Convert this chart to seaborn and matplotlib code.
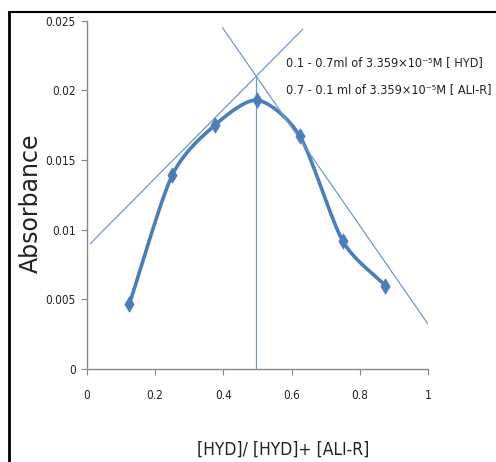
import numpy as np
import pandas as pd
import matplotlib
matplotlib.use("Agg")
import matplotlib.pyplot as plt
from matplotlib.lines import Line2D
import seaborn as sns

# data
mole_fraction = [0.125, 0.25, 0.375, 0.5, 0.625, 0.75, 0.875]
absorbance = [0.0047, 0.0139, 0.0175, 0.0193, 0.0167, 0.0092, 0.0060]

# tangent lines (start/end points)
tan1_x = [0.01, 0.633]
tan1_y = [0.0090, 0.0244]
tan2_x = [0.398, 1.032]
tan2_y = [0.0245, 0.0021]
vert_x = [0.495, 0.495]
vert_y = [0.0, 0.0210]

note_lines = ["0.1 - 0.7ml of 3.359×10⁻⁵M [ HYD]",
              "0.7 - 0.1 ml of 3.359×10⁻⁵M [ ALI-R]"]

BLUE = "#4A7EBB"
LIGHT = "#6C9BD2"


def smooth(x, y, n=30, k=0.8):
    # Catmull-Rom style spline through the points, like Excel's smoothed line
    x = np.asarray(x, float)
    y = np.asarray(y, float)
    px = np.concatenate([[2 * x[0] - x[1]], x, [2 * x[-1] - x[-2]]])
    py = np.concatenate([[2 * y[0] - y[1]], y, [2 * y[-1] - y[-2]]])
    xs, ys = [], []
    t = np.linspace(0, 1, n)
    h00 = 2 * t ** 3 - 3 * t ** 2 + 1
    h10 = t ** 3 - 2 * t ** 2 + t
    h01 = -2 * t ** 3 + 3 * t ** 2
    h11 = t ** 3 - t ** 2
    for i in range(1, len(px) - 2):
        for p, out in ((px, xs), (py, ys)):
            m1 = k * (p[i + 1] - p[i - 1]) / 2
            m2 = k * (p[i + 2] - p[i]) / 2
            out.extend(h00 * p[i] + h10 * m1 + h01 * p[i + 1] + h11 * m2)
    return np.array(xs), np.array(ys)


sns.set_style("white")
plt.rcParams["font.family"] = ["DejaVu Sans"]
plt.rcParams["font.stretch"] = "condensed"

fig = plt.figure(figsize=(4.96, 4.62), dpi=100)
ax = fig.add_axes([0.175, 0.201, 0.688, 0.754])

sx, sy = smooth(mole_fraction, absorbance)
curve = pd.DataFrame({"x": sx, "y": sy})
sns.lineplot(data=curve, x="x", y="y", sort=False, color=BLUE, linewidth=2.6, ax=ax)
pts = pd.DataFrame({"x": mole_fraction, "y": absorbance})
sns.scatterplot(data=pts, x="x", y="y", marker="d", s=60, color=BLUE,
                edgecolor=BLUE, ax=ax, zorder=5)

ax.plot(tan1_x, tan1_y, color=LIGHT, linewidth=0.9)
ax.plot(tan2_x, tan2_y, color=LIGHT, linewidth=0.9)
ax.plot(vert_x, vert_y, color=LIGHT, linewidth=0.9)

ax.set_xlim(0, 1)
ax.set_ylim(0, 0.025)
ax.set_xticks([0, 0.2, 0.4, 0.6, 0.8, 1])
ax.set_xticklabels(["0", "0.2", "0.4", "0.6", "0.8", "1"])
ax.set_yticks([0, 0.005, 0.01, 0.015, 0.02, 0.025])
ax.set_yticklabels(["0", "0.005", "0.01", "0.015", "0.02", "0.025"])
ax.tick_params(axis="both", direction="out", length=4, color="#888888",
               labelsize=8.5, pad=4, bottom=True, left=True, labelcolor="#222222")
ax.tick_params(axis="x", pad=10)
for side in ("top", "right"):
    ax.spines[side].set_visible(False)
for side in ("left", "bottom"):
    ax.spines[side].set_color("#888888")
    ax.spines[side].set_linewidth(1.0)
ax.patch.set_alpha(0)

ax.set_xlabel("[HYD]/ [HYD]+ [ALI-R]", fontsize=12.5, color="#222222")
ax.xaxis.set_label_coords(0.575, -0.205)
ax.set_ylabel("Absorbance", fontsize=17, fontstretch="normal", color="#222222")
ax.yaxis.set_label_coords(-0.13, 0.475)

for i, line in enumerate(note_lines):
    ax.text(0.584, 0.0220 - i * 0.0019, line, fontsize=9.1, ha="left", va="center",
            color="#222222")

fig.add_artist(Line2D([0.018, 0.018], [0.0, 0.974], transform=fig.transFigure,
                      color="black", linewidth=2))
fig.add_artist(Line2D([0.018, 1.0], [0.974, 0.974], transform=fig.transFigure,
                      color="black", linewidth=1.5))

fig.savefig("out.png", dpi=100)
